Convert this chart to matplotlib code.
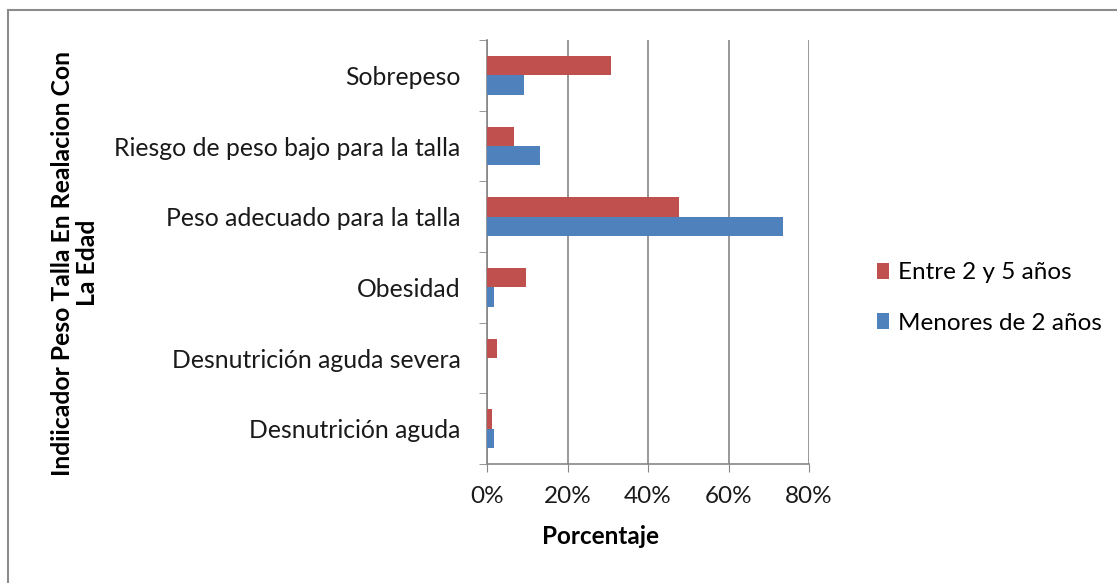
import matplotlib
matplotlib.use("Agg")
import matplotlib.pyplot as plt
from matplotlib.lines import Line2D
from matplotlib.patches import Patch
import numpy as np

categories = ["Desnutrición aguda", "Desnutrición aguda severa", "Obesidad",
              "Peso adecuado para la talla", "Riesgo de peso bajo para la talla", "Sobrepeso"]
entre_2_5 = [1.3, 2.6, 9.7, 47.7, 6.8, 30.9]
menores_2 = [1.7, 0.0, 1.7, 73.5, 13.2, 9.3]
series_names = ["Entre 2 y 5 años", "Menores de 2 años"]
xticks = [0, 20, 40, 60, 80]
xticklabels = ["0%", "20%", "40%", "60%", "80%"]

red = "#C0504D"
blue = "#4F81BD"
grid_c = "#868686"
font = ["Lato", "DejaVu Sans"]

W, H = 1117, 583
fig = plt.figure(figsize=(W / 100, H / 100), dpi=100)
ax = fig.add_axes([487 / W, 1 - 464 / H, (809 - 487) / W, (464 - 40) / H])

y = np.arange(len(categories))
h = 0.275
ax.barh(y + h / 2, entre_2_5, height=h, color=red, label=series_names[0], zorder=3)
ax.barh(y - h / 2, menores_2, height=h, color=blue, label=series_names[1], zorder=3)

ax.set_xlim(0, 80)
ax.set_ylim(-0.5, len(categories) - 0.5)
ax.set_xticks(xticks)
ax.set_xticklabels(xticklabels, fontfamily=font, fontsize=17.5, color="#1a1a1a")
ax.set_yticks(y)
ax.set_yticklabels(categories, fontfamily=font, fontsize=17.8, color="#1a1a1a")
ax.set_yticks(np.arange(len(categories) + 1) - 0.5, minor=True)
ax.tick_params(axis="y", which="major", length=0, pad=19)
ax.tick_params(axis="y", which="minor", length=6, color=grid_c, direction="out")
ax.tick_params(axis="x", which="major", length=6, color=grid_c, direction="out", pad=10)
ax.xaxis.grid(True, color=grid_c, linewidth=1.2, zorder=0)
for s in ["top", "right"]:
    ax.spines[s].set_visible(False)
for s in ["left", "bottom"]:
    ax.spines[s].set_color(grid_c)
    ax.spines[s].set_linewidth(1.2)

fig.text(600 / W, 1 - 536 / H, "Porcentaje", ha="center", va="center",
         fontfamily=font, fontsize=17.5, fontweight="bold")
fig.text(75 / W, 1 - 263 / H, "Indiicador Peso Talla En Realacion Con\nLa Edad",
         rotation=90, ha="center", va="center", fontsize=17.8, fontweight="bold",
         family=font, linespacing=1.15)

handles = [Patch(facecolor=red), Patch(facecolor=blue)]
fig.legend(handles, series_names, loc="center left", bbox_to_anchor=(865 / W, 1 - 298 / H),
           frameon=False, prop={"family": font, "size": 17.5}, handlelength=0.5,
           handleheight=0.6, handletextpad=0.35, labelspacing=1.2, borderpad=0)

fig.add_artist(Line2D([8 / W, 8 / W], [0, 1 - 10 / H], transform=fig.transFigure,
                      color="#8c8c8c", linewidth=1.5))
fig.add_artist(Line2D([8 / W, 1], [1 - 10 / H, 1 - 10 / H], transform=fig.transFigure,
                      color="#8c8c8c", linewidth=1.5))

fig.savefig("out.png", dpi=100)
